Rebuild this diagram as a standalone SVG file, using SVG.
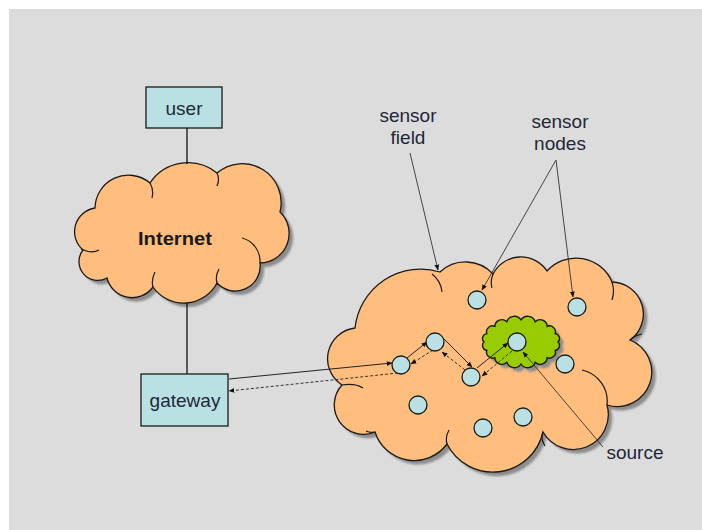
<svg xmlns="http://www.w3.org/2000/svg" width="702" height="530" viewBox="0 0 702 530">
<defs>
<style>
.bg{fill:#dcdcdc}
.cloud{fill:#ffbe7e;stroke:#1a1a1a;stroke-width:1.3}
.green{fill:#99cc00;stroke:#1a1a1a;stroke-width:1.4}
.shadow{fill:#8c8c8c;filter:url(#blur)}
.inner{fill:none;stroke:#1a1a1a;stroke-width:1.2}
.box{fill:#b9e1e4;stroke:#1a1a1a;stroke-width:1.3}
.node{fill:#b9e1e4;stroke:#1a1a1a;stroke-width:1.3}
.line{fill:none;stroke:#111;stroke-width:1.3}
.arr{fill:none;stroke:#222;stroke-width:1;marker-end:url(#ah)}
.dash{fill:none;stroke:#333;stroke-width:1;stroke-dasharray:3 2;marker-end:url(#ah)}
.lbl{fill:none;stroke:#333;stroke-width:0.9;marker-end:url(#ah)}
.t{font-family:"Liberation Sans",Arial,sans-serif;font-size:19px;fill:#1f2738;text-anchor:middle}
.tb{font-family:"Liberation Sans",Arial,sans-serif;font-size:19px;font-weight:bold;fill:#1a1a1a;text-anchor:middle}
</style>
<filter id="blur" x="-10%" y="-10%" width="120%" height="120%"><feGaussianBlur stdDeviation="1.2"/></filter>
<marker id="ah" viewBox="0 0 10 10" refX="9" refY="5" markerWidth="6" markerHeight="6" markerUnits="userSpaceOnUse" orient="auto"><path d="M0 1 L10 5 L0 9 z" fill="#111"/></marker>
<path id="inetShape" d="M83 250 A24 24 0 0 1 95 208 A33.5 33.5 0 0 1 150 183 A45.7 45.7 0 0 1 217 173 A38.9 38.9 0 0 1 280 212 A29.6 29.6 0 0 1 260 263 A24.9 24.9 0 0 1 217 283 A37.5 37.5 0 0 1 153 287 A25.8 25.8 0 0 1 107 278 A18.8 18.8 0 0 1 83 250 Z"/>
<path id="fieldShape" d="M355 328 A66 66 0 0 1 440 272 A37.4 37.4 0 0 1 493 274 A31.3 31.3 0 0 1 547 271 A39 39 0 0 1 612 282 A32 32 0 0 1 630 340 A34.5 34.5 0 0 1 607 405 A35 35 0 0 1 543 432 A51.4 51.4 0 0 1 447 444 A41 41 0 0 1 375 432 A29.4 29.4 0 0 1 342 385 A31 31 0 0 1 355 328 Z"/>
<path id="srcShape" d="M484 342 A4.9 4.9 0 0 1 486.8 333.6 A5.9 5.9 0 0 1 494.8 326.4 A7.1 7.1 0 0 1 506.8 321.7 A7.9 7.9 0 0 1 521 320 A7.9 7.9 0 0 1 535.2 321.7 A7.1 7.1 0 0 1 547.2 326.4 A5.9 5.9 0 0 1 555.2 333.6 A4.9 4.9 0 0 1 558 342 A4.9 4.9 0 0 1 555.2 350.4 A5.9 5.9 0 0 1 547.2 357.6 A7.1 7.1 0 0 1 535.2 362.3 A7.9 7.9 0 0 1 521 364 A7.9 7.9 0 0 1 506.8 362.3 A7.1 7.1 0 0 1 494.8 357.6 A5.9 5.9 0 0 1 486.8 350.4 A4.9 4.9 0 0 1 484 342 Z"/>
</defs>

<rect x="0" y="0" width="702" height="530" fill="#ffffff"/>
<rect class="bg" x="9" y="9" width="693" height="521"/>

<g id="internet">
<use href="#inetShape" class="shadow" transform="translate(4,4)"/>
<use href="#inetShape" class="cloud"/>
<path class="inner" d="M81 249 Q 92 254 99 250 M242 238 A24 24 0 0 1 260 263 M150 183 Q 154 190 152 198 M217 173 Q 220 179 217 186 M153 287 Q 151 280 155 272 M217 283 Q 215 276 219 269"/>
<text class="tb" x="175" y="245" textLength="74" lengthAdjust="spacingAndGlyphs">Internet</text>
</g>

<g id="sensor-field">
<use href="#fieldShape" class="shadow" transform="translate(4,4)"/>
<use href="#fieldShape" class="cloud"/>
<path class="inner" d="M342 385 Q 355 383 363 388 M432 274 Q 441 281 442 292 M493 274 Q 490 281 492 288 M612 282 Q 615 291 612 300 M630 340 Q 636 335 642 334 M582 370 A32 32 0 0 1 607 405 M543 432 Q 540 439 545 446 M447 444 Q 445 437 449 430 M375 432 Q 370 433 366 431"/>
</g>

<g id="source-region">
<use href="#srcShape" class="shadow" transform="translate(4,4)"/>
<use href="#srcShape" class="green"/>
</g>

<g id="connectors">
<line class="line" x1="187" y1="128" x2="187" y2="164"/>
<line class="line" x1="187" y1="303" x2="187" y2="374"/>
<path class="arr" d="M229 379 L392 363"/>
<path class="arr" d="M407 358 L427 342"/>
<path class="arr" d="M444 339 L472 367"/>
<path class="arr" d="M477 368 L508 343"/>
<path class="dash" d="M512 351 L482 376"/>
<path class="dash" d="M465 370 L442 352"/>
<path class="dash" d="M433 350 L411 364"/>
<path class="dash" d="M398 373 L229 391"/>
<path class="lbl" d="M410 153 L438 270"/>
<path class="lbl" d="M556 160 L482 290"/>
<path class="lbl" d="M556 160 L573 297"/>
<path class="lbl" d="M603 447 L523 352"/>
</g>

<g id="node1"><circle class="node" cx="477" cy="300" r="9"/></g>
<g id="node2"><circle class="node" cx="577" cy="307" r="9"/></g>
<g id="node3"><circle class="node" cx="435" cy="342" r="9"/></g>
<g id="node4"><circle class="node" cx="401" cy="365" r="9"/></g>
<g id="node5"><circle class="node" cx="471" cy="377" r="9"/></g>
<g id="source-node"><circle class="node" cx="517" cy="342" r="9"/></g>
<g id="node6"><circle class="node" cx="565" cy="364" r="9"/></g>
<g id="node7"><circle class="node" cx="418" cy="405" r="9"/></g>
<g id="node8"><circle class="node" cx="483" cy="428" r="9"/></g>
<g id="node9"><circle class="node" cx="523" cy="417" r="9"/></g>

<g id="user"><rect class="box" x="146" y="87" width="76" height="41"/><text class="t" x="184" y="115">user</text></g>
<g id="gateway"><rect class="box" x="141" y="374" width="87" height="52"/><text class="t" x="185" y="407">gateway</text></g>

<g id="label-field"><text class="t" x="408" y="122">sensor</text><text class="t" x="408" y="144">field</text></g>
<g id="label-nodes"><text class="t" x="560" y="128">sensor</text><text class="t" x="560" y="150">nodes</text></g>
<g id="label-source"><text class="t" x="635" y="459">source</text></g>
</svg>
